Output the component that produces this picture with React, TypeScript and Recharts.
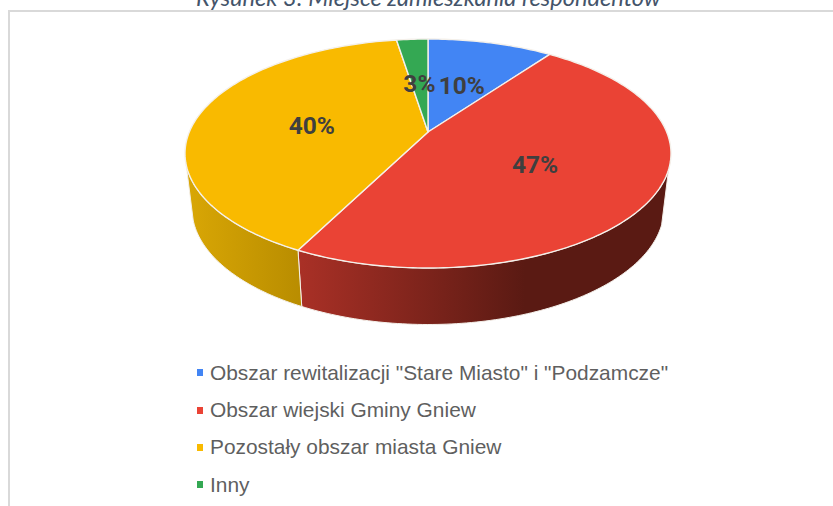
import { PieChart, Pie, Legend } from 'recharts';

const categories = ['Obszar rewitalizacji "Stare Miasto" i "Podzamcze"', 'Obszar wiejski Gminy Gniew', 'Pozostały obszar miasta Gniew', 'Inny'];
const shares = [10, 47.49, 40.01, 2.5];
const COLORS = ['#4285f4', '#ea4335', '#f9ba00', '#34a853'];

const data = categories.map((name, i) => ({ name, value: shares[i], fill: COLORS[i] }));

// tilted disc: ellipse of the top face, the pie centre sits above the ellipse centre
const TOP = { cx: 428, cy: 153.5, rx: 243, ry: 114.5 };
const BOTTOM = { cx: 428, cy: 208.5, rx: 236, ry: 116 };
const TILT = 0.188;
const WALL_FROM = -18.7;
const WALL_TO = -163.6;

const project = (deg: number, r = 1) => {
  const th = (deg * Math.PI) / 180;
  const u = r * Math.cos(th);
  const v = r * Math.sin(th);
  const den = 1 + TILT * v;
  return { x: (u * Math.sqrt(1 - TILT * TILT)) / den, y: (v + TILT) / den };
};

const rim = (from: number, to: number, e: typeof TOP) => {
  const steps = Math.max(2, Math.ceil(Math.abs(to - from)));
  const pts: string[] = [];
  for (let i = 0; i <= steps; i++) {
    const p = project(from + ((to - from) * i) / steps);
    pts.push(`${(e.cx + e.rx * p.x).toFixed(2)},${(e.cy - e.ry * p.y).toFixed(2)}`);
  }
  return pts;
};

const TopSlice = (props: any) => {
  const apex = project(0, 0);
  const pts = rim(props.startAngle, props.endAngle, TOP);
  const d = `M${TOP.cx + TOP.rx * apex.x},${TOP.cy - TOP.ry * apex.y} L${pts.join(' L')} Z`;
  return <path d={d} fill={props.fill} stroke="#f4f0ea" strokeWidth={1.4} strokeLinejoin="round" />;
};

const WallSlice = (props: any) => {
  const from = Math.min(props.startAngle, WALL_FROM);
  const to = Math.max(props.endAngle, WALL_TO);
  if (from <= to) return <g />;
  const upper = rim(from, to, TOP);
  const lower = rim(to, from, BOTTOM);
  const grad = props.name === categories[1] ? 'url(#wallRed)' : 'url(#wallYellow)';
  return <path d={`M${upper.join(' L')} L${lower.join(' L')} Z`} fill={grad} stroke="#f4f0ea" strokeWidth={1} />;
};

const renderLabel = (props: any) => {
  const p = project(props.midAngle, 0.5);
  return (
    <text
      x={TOP.cx + TOP.rx * p.x}
      y={TOP.cy - TOP.ry * p.y + 2}
      textAnchor="middle"
      dominantBaseline="central"
      fontFamily="Roboto"
      fontWeight="bold"
      fontSize={24.5}
      fill="#3f3f3f"
    >
      {Math.round(props.value)}%
    </text>
  );
};

// both pies feed the legend, one row per category is enough
const renderLegend = ({ payload }: any) => {
  const rows = categories.map((name) => (payload || []).find((entry: any) => entry.value === name)).filter(Boolean);
  return (
    <div>
      {rows.map((entry: any) => (
        <div key={entry.value} style={{ height: 37.4, display: 'flex', alignItems: 'center' }}>
          <span style={{ width: 6, height: 7, background: entry.color, marginRight: 7 }} />
          <span style={{ fontFamily: 'Liberation Sans', fontSize: 20.9, color: '#5f5f5f', whiteSpace: 'nowrap' }}>{entry.value}</span>
        </div>
      ))}
    </div>
  );
};

export default function App() {
  return (
    <div style={{ position: 'absolute', left: 0, top: 0, width: 833, height: 506, overflow: 'hidden', background: '#fff' }}>
      <div
        style={{
          position: 'absolute', left: 0, width: 857, top: -15, textAlign: 'center',
          fontFamily: 'Lato', fontStyle: 'italic', fontSize: 23.6, lineHeight: '24px', color: '#44546a', whiteSpace: 'nowrap',
        }}
      >
        Rysunek 3: Miejsce zamieszkania respondentów
      </div>
      <div style={{ position: 'absolute', left: 8, top: 10, width: 840, height: 510, borderLeft: '2px solid #d9d9d9', borderTop: '2px solid #d9d9d9' }} />
      <PieChart width={833} height={506} style={{ position: 'absolute', left: 0, top: 0 }}>
        <defs>
          <linearGradient id="wallRed" gradientUnits="userSpaceOnUse" x1="300" y1="0" x2="525" y2="0">
            <stop offset="0" stopColor="#a93026" />
            <stop offset="1" stopColor="#5a1a13" />
          </linearGradient>
          <linearGradient id="wallYellow" gradientUnits="userSpaceOnUse" x1="190" y1="0" x2="300" y2="0">
            <stop offset="0" stopColor="#d8a605" />
            <stop offset="1" stopColor="#b98d00" />
          </linearGradient>
        </defs>
        <Pie
          data={data}
          dataKey="value"
          nameKey="name"
          cx={428}
          cy={154}
          outerRadius={114}
          startAngle={90}
          endAngle={-270}
          legendType="none"
          shape={WallSlice}
          isAnimationActive={false}
        />
        <Pie
          data={data}
          dataKey="value"
          nameKey="name"
          cx={428}
          cy={154}
          outerRadius={114}
          startAngle={90}
          endAngle={-270}
          shape={TopSlice}
          label={renderLabel}
          labelLine={false}
          isAnimationActive={false}
        />
        <Legend content={renderLegend} layout="vertical" wrapperStyle={{ position: 'absolute', left: 197, top: 354, width: 600 }} />
      </PieChart>
    </div>
  );
}
